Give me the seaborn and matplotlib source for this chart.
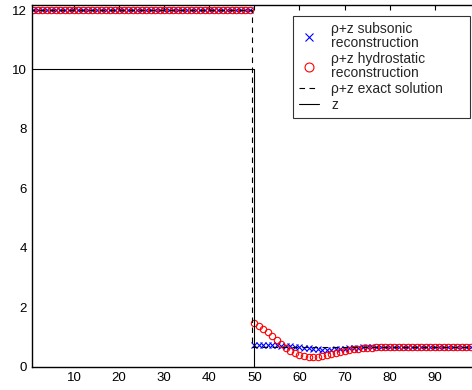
import numpy as np
import pandas as pd
import matplotlib
matplotlib.use("Agg")
import matplotlib.pyplot as plt
import seaborn as sns

# ---------------- data ----------------
x_cells = list(range(1, 101))
left_state = 12.0
right_state = 0.65

subsonic_right = [0.74, 0.74, 0.73, 0.73, 0.72, 0.72, 0.71, 0.70, 0.69, 0.67,
                  0.66, 0.64, 0.62, 0.60, 0.58, 0.56, 0.55, 0.56, 0.58, 0.60,
                  0.61, 0.62, 0.63, 0.64]
hydro_right = [1.47, 1.38, 1.28, 1.16, 1.02, 0.89, 0.76, 0.63, 0.54, 0.46,
               0.40, 0.36, 0.34, 0.33, 0.33, 0.35, 0.38, 0.42, 0.45, 0.48,
               0.52, 0.55, 0.58, 0.60, 0.62, 0.63, 0.64]

n_left = 49
subsonic = [left_state] * n_left + subsonic_right + [right_state] * (100 - n_left - len(subsonic_right))
hydro = [left_state] * n_left + hydro_right + [right_state] * (100 - n_left - len(hydro_right))

exact_x = [0.0, 49.5, 49.5, 100.0]
exact_y = [12.0, 12.0, 0.65, 0.65]
z_x = [0.0, 50.0, 50.0, 100.0]
z_y = [10.0, 10.0, 0.0, 0.0]

labels = ["\u03c1+z subsonic\nreconstruction",
          "\u03c1+z hydrostatic\nreconstruction",
          "\u03c1+z exact solution",
          "z"]
xticks = [10, 20, 30, 40, 50, 60, 70, 80, 90]
yticks = [0, 2, 4, 6, 8, 10, 12]

# ---------------- plot ----------------
sns.set_theme(style="white")
plt.rcParams['font.family'] = ['Liberation Sans', 'DejaVu Sans']

W, H = 472, 390
fig = plt.figure(figsize=(W / 100, H / 100), dpi=100)
ax = fig.add_axes([32 / W, 23.3 / H, 1 - 32 / W, (366.7 - 5) / H])

df_sub = pd.DataFrame({"x": x_cells, "y": subsonic})
df_hyd = pd.DataFrame({"x": x_cells, "y": hydro})
df_ex = pd.DataFrame({"x": exact_x, "y": exact_y})
df_z = pd.DataFrame({"x": z_x, "y": z_y})

sns.lineplot(data=df_sub, x="x", y="y", ax=ax, linestyle="", marker="x",
             markersize=4.0, markeredgewidth=0.8, color="blue",
             markeredgecolor="blue",
             estimator=None, sort=False, label=labels[0])
sns.lineplot(data=df_hyd, x="x", y="y", ax=ax, linestyle="", marker="o",
             markersize=4.6, markeredgewidth=0.8, markerfacecolor="none",
             markeredgecolor="red", color="red",
             estimator=None, sort=False, label=labels[1])
sns.lineplot(data=df_ex, x="x", y="y", ax=ax, color="black", linewidth=0.8,
             linestyle=(0, (5, 4)), estimator=None, sort=False, label=labels[2])
sns.lineplot(data=df_z, x="x", y="y", ax=ax, color="black", linewidth=0.8,
             estimator=None, sort=False, label=labels[3])

ax.set_xlim(0.69, 98.25)
ax.set_ylim(0, 12.17)
ax.set_xticks(xticks)
ax.set_yticks(yticks)
ax.set_xlabel("")
ax.set_ylabel("")
ax.tick_params(direction="in", length=3.5, width=0.8, top=True, right=False,
               labelsize=9.5, pad=3.8, colors="black")
for side in ["left", "bottom", "top"]:
    ax.spines[side].set_visible(True)
    ax.spines[side].set_color("black")
    ax.spines[side].set_linewidth(1.0)
ax.spines["right"].set_visible(False)

leg_left, leg_right, leg_top, leg_bottom = 293, 470, 15.7, 124
leg = ax.legend(loc="upper left",
                bbox_to_anchor=(leg_left / W, 1 - leg_bottom / H,
                                (leg_right - leg_left) / W, (leg_bottom - leg_top) / H),
                bbox_transform=fig.transFigure, borderaxespad=0, mode="expand",
                fontsize=10, frameon=True, fancybox=False, handlelength=1.45,
                handletextpad=0.85, labelspacing=0.15, borderpad=0.45,
                markerscale=1.4)
leg.get_frame().set_edgecolor("black")
leg.get_frame().set_linewidth(0.8)
for t in leg.get_texts():
    t.set_linespacing(1.0)

fig.savefig("out.png", dpi=100)
